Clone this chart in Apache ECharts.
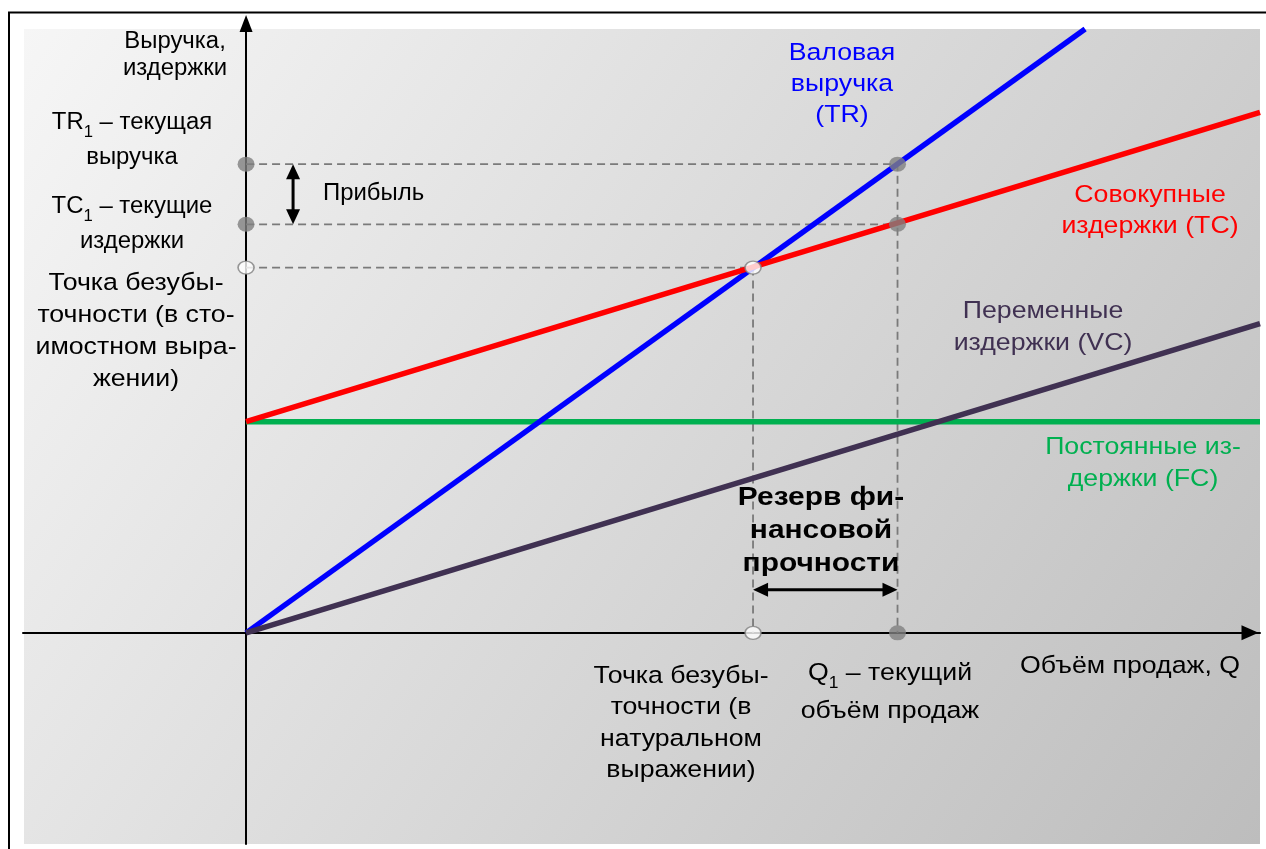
<!DOCTYPE html>
<html>
<head>
<meta charset="utf-8">
<script src="https://cdn.jsdelivr.net/npm/echarts@6/dist/echarts.min.js"></script>
<style>
  html, body { margin: 0; padding: 0; background: #ffffff; }
  #chart { width: 1266px; height: 849px; }
</style>
</head>
<body>
<div id="chart"></div>
<script>
// Break-even chart: revenue and cost lines against sales volume Q.
const qPoints        = [0, 200];      // sales volume at line ends
const fixedCosts     = [100, 100];    // FC
const variableCosts  = [0, 146.5];    // VC
const totalCosts     = [100, 246.5];  // TC = FC + VC
const revenueQ       = [0, 165.5];    // TR drawn up to the top of the plot
const revenue        = [0, 286];      // TR

const breakEvenQ       = 100;   // break-even volume
const breakEvenRevenue = 173;   // break-even revenue
const currentQ         = 128.5; // Q1
const currentRevenue   = 222;   // TR1
const currentCosts     = 193.5; // TC1

const FONT = '"Liberation Sans", Arial, sans-serif';
const GUIDE = '#7a7a7a';

function pairs(xs, ys) { return xs.map((x, i) => [x, ys[i]]); }

const chart = echarts.init(document.getElementById('chart'), null, { renderer: 'canvas' });

// Text block anchored at (x, y); slightly widened glyphs via scaleX
function text(str, x, y, o) {
  o = o || {};
  const size = o.size || 24.5;
  const color = o.color || '#000000';
  return {
    type: 'text',
    z: 100,
    x: x,
    y: y,
    scaleX: o.sx || 1.09,
    style: {
      text: str,
      x: 0,
      y: 0,
      textAlign: o.align || 'center',
      textVerticalAlign: 'middle',
      fontSize: size,
      fontWeight: o.weight || 'normal',
      fontFamily: FONT,
      lineHeight: o.lh || 30,
      fill: color,
      rich: {
        sub: { fontSize: 16, fontFamily: FONT, lineHeight: 16, verticalAlign: 'bottom', fill: color }
      }
    }
  };
}

// Double-headed arrow drawn in pixel space between two converted points
function arrowShape(p1, p2, color) {
  const dx = p2[0] - p1[0], dy = p2[1] - p1[1];
  const len = Math.sqrt(dx * dx + dy * dy);
  const ux = dx / len, uy = dy / len;
  const nx = -uy, ny = ux;
  const hl = 15, hw = 7;
  const head = (tip, dir) => [
    [tip[0], tip[1]],
    [tip[0] - dir * ux * hl + nx * hw, tip[1] - dir * uy * hl + ny * hw],
    [tip[0] - dir * ux * hl - nx * hw, tip[1] - dir * uy * hl - ny * hw]
  ];
  return {
    type: 'group',
    children: [
      { type: 'line', shape: { x1: p1[0] + ux * (hl - 2), y1: p1[1] + uy * (hl - 2), x2: p2[0] - ux * (hl - 2), y2: p2[1] - uy * (hl - 2) },
        style: { stroke: color, lineWidth: 3 } },
      { type: 'polygon', shape: { points: head(p1, -1) }, style: { fill: color } },
      { type: 'polygon', shape: { points: head(p2, 1) }, style: { fill: color } }
    ]
  };
}

const small = { size: 23, sx: 1.04 };
const dashed = { color: GUIDE, width: 1.8, type: [8, 5] };

const option = {
  animation: false,
  backgroundColor: '#ffffff',
  grid: { left: 23, top: 29, width: 1237, height: 815, containLabel: false },
  xAxis: {
    type: 'value', min: -44, max: 200,
    axisLine: { onZero: true, symbol: ['none', 'triangle'], symbolSize: [15, 17], symbolOffset: [0, -10],
                lineStyle: { color: '#000000', width: 2 } },
    axisTick: { show: false }, axisLabel: { show: false }, splitLine: { show: false }
  },
  yAxis: {
    type: 'value', min: -100, max: 286,
    axisLine: { onZero: true, symbol: ['none', 'triangle'], symbolSize: [13, 17], symbolOffset: [0, 5.5],
                lineStyle: { color: '#000000', width: 2 } },
    axisTick: { show: false }, axisLabel: { show: false }, splitLine: { show: false }
  },
  graphic: [
    { type: 'rect', z: -20, silent: true, shape: { x: 9, y: 12.5, width: 1400, height: 1000 },
      style: { fill: '#ffffff', stroke: '#000000', lineWidth: 2 } },
    { type: 'rect', z: -19, silent: true, shape: { x: 24, y: 29, width: 1236, height: 815 },
      style: { fill: new echarts.graphic.LinearGradient(0, 0, 1, 1, [
        { offset: 0, color: '#f6f6f6' },
        { offset: 1, color: '#bdbdbd' }
      ]) } },

    text('Выручка,\nиздержки', 175, 55, Object.assign({ lh: 27 }, small)),
    text('TR{sub|1} – текущая\nвыручка', 132, 140.5, Object.assign({ lh: 35 }, small)),
    text('TC{sub|1} – текущие\nиздержки', 132, 224.5, Object.assign({ lh: 35 }, small)),
    text('Прибыль', 323, 194, Object.assign({ align: 'left' }, small)),
    text('Точка безубы-\nточности (в сто-\nимостном выра-\nжении)', 136, 331, { lh: 32 }),

    text('Валовая\nвыручка\n(TR)', 842, 84.5, { lh: 31, color: '#0000ff' }),
    text('Совокупные\nиздержки (TC)', 1150, 211, { lh: 31, color: '#ff0000' }),
    text('Переменные\nиздержки (VC)', 1043, 327, { lh: 32, color: '#403152' }),
    text('Постоянные из-\nдержки (FC)', 1143, 463.5, { lh: 32, color: '#00b050' }),

    text('Резерв фи-\nнансовой\nпрочности', 821, 531, { lh: 33, size: 26, sx: 1.15, weight: 'bold' }),
    text('Точка безубы-\nточности (в\nнатуральном\nвыражении)', 681, 723, { lh: 31.5 }),
    text('Q{sub|1} – текущий\nобъём продаж', 890, 692, { lh: 38 }),
    text('Объём продаж, Q', 1130, 666)
  ],
  series: [
    // dashed guide lines
    { type: 'line', symbol: 'none', silent: true, z: 2, lineStyle: dashed,
      data: [[0, currentRevenue], [currentQ, currentRevenue], [currentQ, 0]] },
    { type: 'line', symbol: 'none', silent: true, z: 2, lineStyle: dashed,
      data: [[0, currentCosts], [currentQ, currentCosts]] },
    { type: 'line', symbol: 'none', silent: true, z: 2, lineStyle: dashed,
      data: [[0, breakEvenRevenue], [breakEvenQ, breakEvenRevenue], [breakEvenQ, 0]] },

    // FC, TR, TC, VC
    { name: 'FC', type: 'line', symbol: 'none', silent: true, z: 3,
      lineStyle: { color: '#00b050', width: 5.5 }, data: pairs(qPoints, fixedCosts) },
    { name: 'TR', type: 'line', symbol: 'none', silent: true, z: 3,
      lineStyle: { color: '#0000ff', width: 5.5 }, data: pairs(revenueQ, revenue) },
    { name: 'TC', type: 'line', symbol: 'none', silent: true, z: 3,
      lineStyle: { color: '#ff0000', width: 5.5 }, data: pairs(qPoints, totalCosts) },
    { name: 'VC', type: 'line', symbol: 'none', silent: true, z: 3,
      lineStyle: { color: '#403152', width: 5.5 }, data: pairs(qPoints, variableCosts) },

    // current-state points
    { type: 'scatter', silent: true, z: 5, symbol: 'circle', symbolSize: [17, 15],
      itemStyle: { color: '#7f7f7f' },
      data: [[0, currentRevenue], [0, currentCosts], [currentQ, currentRevenue], [currentQ, currentCosts], [currentQ, 0]] },
    // break-even points
    { type: 'scatter', silent: true, z: 5, symbol: 'circle', symbolSize: [16, 13],
      itemStyle: { color: '#ffffff', borderColor: '#7f7f7f', borderWidth: 1.5 },
      data: [[0, breakEvenRevenue], [breakEvenQ, breakEvenRevenue], [breakEvenQ, 0]] },

    // profit and safety-margin arrows
    { type: 'custom', silent: true, z: 6,
      data: [[0, currentRevenue, 0, currentCosts], [breakEvenQ, 0, currentQ, 0]],
      renderItem: function (params, api) {
        const a = api.coord([api.value(0), api.value(1)]);
        const b = api.coord([api.value(2), api.value(3)]);
        if (params.dataIndex === 0) { a[0] += 47; b[0] += 47; }
        else { a[1] -= 43; b[1] -= 43; }
        return arrowShape(a, b, '#000000');
      } }
  ]
};

chart.setOption(option);
</script>
</body>
</html>
